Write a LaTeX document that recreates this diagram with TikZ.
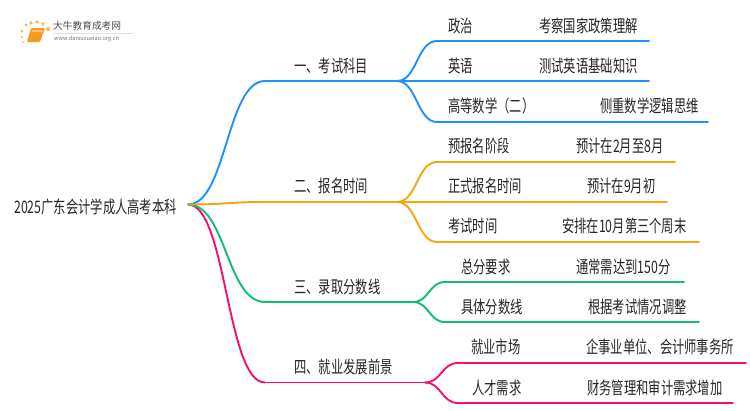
\documentclass[tikz,border=0pt]{standalone}
\usepackage{graphicx}
\usepackage{fontspec}
\setmainfont{Noto Sans CJK SC}
\usetikzlibrary{calc}
\definecolor{cblue}{HTML}{1E90FF}
\definecolor{corange}{HTML}{F5A60A}
\definecolor{cgreen}{HTML}{0DBF6E}
\definecolor{cpink}{HTML}{F5106E}
\definecolor{ctext}{HTML}{262626}
\definecolor{cbook}{HTML}{F59A1E}
\definecolor{cdot}{HTML}{F8BE4A}
\newcommand{\tl}[1]{\scalebox{1}[1.4]{#1}}
\tikzset{x=1pt,y=-1pt,
 lbl/.style={anchor=west,inner sep=0pt,text=ctext,font=\fontsize{12.3pt}{14pt}\selectfont},
 conn/.style={line width=1.9pt,line cap=round},
 ball/.style={circle,fill=cdot,inner sep=0pt,minimum size=#1}}
\newcommand{\bez}[3]{\draw[conn,#1] (#2) .. controls ($(#2)!0.5!(#2 -| #3)$) and ($(#3)!0.5!(#3 -| #2)$) .. (#3);}
\begin{document}
\begin{tikzpicture}
\useasboundingbox (0,0) rectangle (750,410);
\fill[white] (0,0) rectangle (750,410);
% logo
\node[ball=2pt] (d1) at (23,42) {};
\node[ball=2.4pt] (d2) at (22,37) {};
\node[ball=3pt] (d3) at (22,31) {};
\node[ball=3.4pt] (d4) at (26,25) {};
\node[ball=3.8pt] (d5) at (31,23) {};
\node[ball=3.8pt] (d6) at (37,22) {};
\node[ball=3.8pt] (d7) at (43,24) {};
\node[ball=4.2pt] (d8) at (48,29) {};
\fill[cbook,rounded corners=1pt] (31,28) -- (45,28) -- (40,42) -- (27,42) -- cycle;
\fill[cbook!60!white] (32,30) -- (43,30) -- (42.4,32) -- (31.4,32) -- cycle;
\draw[black!12,line width=0.5pt] (53,33.5) -- (133,33.5);
\node[anchor=west,inner sep=0pt,text=black!70,font=\fontsize{9.7pt}{10pt}\selectfont] (lg1) at (53,26) {大牛教育成考网};
\node[anchor=west,inner sep=0pt,text=black!55,font=\fontsize{5.6pt}{6pt}\selectfont] (lg2) at (54,39) {www.daniuxueiao.org.cn};
% coordinates
\coordinate (r) at (188,204.5);
\coordinate (b1s) at (265,81); \coordinate (b1e) at (397,81);
\coordinate (b2s) at (265,202); \coordinate (b2e) at (397,202);
\coordinate (b3s) at (265,302); \coordinate (b3e) at (413,302);
\coordinate (b4s) at (265,382.5); \coordinate (b4e) at (425,382.5);
\coordinate (l11) at (437,41); \coordinate (l11e) at (649,41);
\coordinate (l12e) at (649,81);
\coordinate (l13) at (437,122); \coordinate (l13e) at (708,122);
\coordinate (l21) at (437,162); \coordinate (l21e) at (675,162);
\coordinate (l22e) at (667,202);
\coordinate (l23) at (437,242); \coordinate (l23e) at (699,242);
\coordinate (l31) at (445,282); \coordinate (l31e) at (684,282);
\coordinate (l32) at (445,322); \coordinate (l32e) at (699,322);
\coordinate (l41) at (458,363); \coordinate (l41e) at (746,363);
\coordinate (l42) at (458,403); \coordinate (l42e) at (733,403);
% connectors
\bez{cpink}{r}{b4s}\draw[conn,cpink] (b4s)--(b4e);
\bez{cgreen}{r}{b3s}\draw[conn,cgreen] (b3s)--(b3e);
\bez{cblue}{r}{b1s}\draw[conn,cblue] (b1s)--(b1e);
\bez{corange}{r}{b2s}\draw[conn,corange] (b2s)--(b2e);
\bez{cblue}{b1e}{l11}\draw[conn,cblue] (l11)--(l11e);
\draw[conn,cblue] (b1e)--(l12e);
\bez{cblue}{b1e}{l13}\draw[conn,cblue] (l13)--(l13e);
\bez{corange}{b2e}{l21}\draw[conn,corange] (l21)--(l21e);
\draw[conn,corange] (b2e)--(l22e);
\bez{corange}{b2e}{l23}\draw[conn,corange] (l23)--(l23e);
\bez{cgreen}{b3e}{l31}\draw[conn,cgreen] (l31)--(l31e);
\bez{cgreen}{b3e}{l32}\draw[conn,cgreen] (l32)--(l32e);
\bez{cpink}{b4e}{l41}\draw[conn,cpink] (l41)--(l41e);
\bez{cpink}{b4e}{l42}\draw[conn,cpink] (l42)--(l42e);
% labels
\node[lbl] (root) at (14,207) {\tl{2025广东会计学成人高考本科}};
\node[lbl] (n1) at (294,66) {\tl{一、考试科目}};
\node[lbl] (n2) at (294,186) {\tl{二、报名时间}};
\node[lbl] (n3) at (294,287) {\tl{三、录取分数线}};
\node[lbl] (n4) at (294,367) {\tl{四、就业发展前景}};
\node[lbl] (a1) at (448,26) {\tl{政治}};
\node[lbl] (a1d) at (539,26) {\tl{考察国家政策理解}};
\node[lbl] (a2) at (448,66) {\tl{英语}};
\node[lbl] (a2d) at (539,66) {\tl{测试英语基础知识}};
\node[lbl] (a3) at (448,106) {\tl{高等数学（二）}};
\node[lbl] (a3d) at (600,106) {\tl{侧重数学逻辑思维}};
\node[lbl] (b1) at (448,146) {\tl{预报名阶段}};
\node[lbl] (b1d) at (576,146) {\tl{预计在2月至8月}};
\node[lbl] (b2) at (448,186) {\tl{正式报名时间}};
\node[lbl] (b2d) at (587,186) {\tl{预计在9月初}};
\node[lbl] (b3) at (448,226) {\tl{考试时间}};
\node[lbl] (b3d) at (562,226) {\tl{安排在10月第三个周末}};
\node[lbl] (c1) at (461,267) {\tl{总分要求}};
\node[lbl] (c1d) at (576,267) {\tl{通常需达到150分}};
\node[lbl] (c2) at (461,307) {\tl{具体分数线}};
\node[lbl] (c2d) at (588,307) {\tl{根据考试情况调整}};
\node[lbl] (d1) at (471,347) {\tl{就业市场}};
\node[lbl] (d1d) at (586,347) {\tl{企事业单位、会计师事务所}};
\node[lbl] (d2) at (472,388) {\tl{人才需求}};
\node[lbl] (d2d) at (587,388) {\tl{财务管理和审计需求增加}};
\end{tikzpicture}
\end{document}
